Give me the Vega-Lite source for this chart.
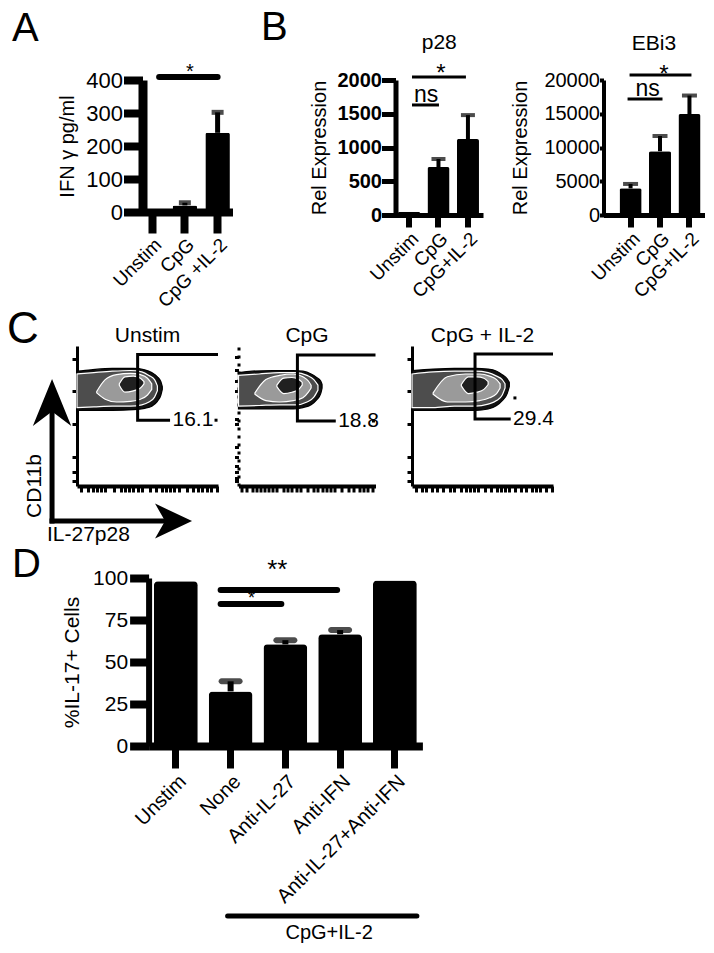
{
  "$schema": "https://vega.github.io/schema/vega-lite/v6.json",
  "background": "white",
  "padding": {"left": 7, "top": 8, "right": 4, "bottom": 4},
  "config": {
    "view": {"stroke": null},
    "axis": {"grid": false, "labelFont": "Liberation Sans", "titleFont": "Liberation Sans", "labelColor": "black", "titleColor": "black", "domainColor": "black", "tickColor": "black", "titleFontWeight": "normal", "labelOverlap": false, "labelLimit": 0},
    "title": {"font": "Liberation Sans", "fontWeight": "normal", "color": "black"},
    "text": {"font": "Liberation Sans", "color": "black"}
  },
  "datasets": {
    "A": [{"g": "Unstim", "v": 3, "e": null}, {"g": "CpG", "v": 20, "e": 28}, {"g": "CpG +IL-2", "v": 240, "e": 302}],
    "P28": [{"g": "Unstim", "v": 50, "e": null}, {"g": "CpG", "v": 710, "e": 830}, {"g": "CpG+IL-2", "v": 1125, "e": 1480}],
    "EBI3": [{"g": "Unstim", "v": 3950, "e": 4600}, {"g": "CpG", "v": 9450, "e": 11700}, {"g": "CpG+IL-2", "v": 14950, "e": 17700}],
    "D": [{"g": "Unstim", "v": 98, "e": null}, {"g": "None", "v": 32.5, "e": 38.5}, {"g": "Anti-IL-27", "v": 60.5, "e": 63}, {"g": "Anti-IFN", "v": 66.5, "e": 69}, {"g": "Anti-IL-27+Anti-IFN", "v": 98.5, "e": null}],
    "cont": [
      {"p": "U", "lv": "1", "x": 0, "lo": 54, "hi": 82}, {"p": "U", "lv": "1", "x": 10, "lo": 54, "hi": 83}, {"p": "U", "lv": "1", "x": 25, "lo": 54, "hi": 84}, {"p": "U", "lv": "1", "x": 40, "lo": 54.5, "hi": 84}, {"p": "U", "lv": "1", "x": 48, "lo": 55.5, "hi": 83}, {"p": "U", "lv": "1", "x": 53, "lo": 57, "hi": 81}, {"p": "U", "lv": "1", "x": 57, "lo": 60.5, "hi": 78}, {"p": "U", "lv": "1", "x": 59.5, "lo": 65, "hi": 74.5}, {"p": "U", "lv": "1", "x": 60.5, "lo": 69, "hi": 71},
      {"p": "U", "lv": "2", "x": 0, "lo": 56, "hi": 80}, {"p": "U", "lv": "2", "x": 12, "lo": 56.5, "hi": 81}, {"p": "U", "lv": "2", "x": 25, "lo": 57, "hi": 82}, {"p": "U", "lv": "2", "x": 38, "lo": 57, "hi": 82.5}, {"p": "U", "lv": "2", "x": 46, "lo": 58, "hi": 81.5}, {"p": "U", "lv": "2", "x": 51, "lo": 60, "hi": 79}, {"p": "U", "lv": "2", "x": 55, "lo": 63.5, "hi": 76}, {"p": "U", "lv": "2", "x": 57, "lo": 68, "hi": 71.5},
      {"p": "U", "lv": "3", "x": 14, "lo": 66.5, "hi": 67.5}, {"p": "U", "lv": "3", "x": 20, "lo": 62, "hi": 76}, {"p": "U", "lv": "3", "x": 28, "lo": 60, "hi": 79.5}, {"p": "U", "lv": "3", "x": 38, "lo": 60.5, "hi": 80.5}, {"p": "U", "lv": "3", "x": 45, "lo": 62, "hi": 79.5}, {"p": "U", "lv": "3", "x": 50, "lo": 65, "hi": 77}, {"p": "U", "lv": "3", "x": 53, "lo": 69, "hi": 73},
      {"p": "U", "lv": "4", "x": 30, "lo": 72, "hi": 73}, {"p": "U", "lv": "4", "x": 34, "lo": 67, "hi": 78}, {"p": "U", "lv": "4", "x": 40, "lo": 68, "hi": 78.5}, {"p": "U", "lv": "4", "x": 45, "lo": 70, "hi": 77}, {"p": "U", "lv": "4", "x": 47.5, "lo": 73, "hi": 74.5},
      {"p": "C", "lv": "1", "x": 0, "lo": 55, "hi": 81}, {"p": "C", "lv": "1", "x": 10, "lo": 55, "hi": 82}, {"p": "C", "lv": "1", "x": 25, "lo": 55, "hi": 82.5}, {"p": "C", "lv": "1", "x": 40, "lo": 55, "hi": 82.5}, {"p": "C", "lv": "1", "x": 47, "lo": 56, "hi": 82}, {"p": "C", "lv": "1", "x": 53, "lo": 58, "hi": 80}, {"p": "C", "lv": "1", "x": 57, "lo": 61.5, "hi": 77.5}, {"p": "C", "lv": "1", "x": 60, "lo": 66, "hi": 75}, {"p": "C", "lv": "1", "x": 61, "lo": 70, "hi": 72.5},
      {"p": "C", "lv": "2", "x": 0, "lo": 57, "hi": 79}, {"p": "C", "lv": "2", "x": 15, "lo": 57.5, "hi": 80}, {"p": "C", "lv": "2", "x": 30, "lo": 58, "hi": 81}, {"p": "C", "lv": "2", "x": 42, "lo": 58, "hi": 81}, {"p": "C", "lv": "2", "x": 50, "lo": 60, "hi": 79}, {"p": "C", "lv": "2", "x": 55, "lo": 63.5, "hi": 76}, {"p": "C", "lv": "2", "x": 58, "lo": 68.5, "hi": 72},
      {"p": "C", "lv": "3", "x": 12, "lo": 65.5, "hi": 66.5}, {"p": "C", "lv": "3", "x": 20, "lo": 61, "hi": 76}, {"p": "C", "lv": "3", "x": 30, "lo": 60, "hi": 79}, {"p": "C", "lv": "3", "x": 40, "lo": 61, "hi": 80}, {"p": "C", "lv": "3", "x": 47, "lo": 63, "hi": 78}, {"p": "C", "lv": "3", "x": 51, "lo": 67, "hi": 75}, {"p": "C", "lv": "3", "x": 53, "lo": 70, "hi": 72},
      {"p": "C", "lv": "4", "x": 28, "lo": 71, "hi": 72}, {"p": "C", "lv": "4", "x": 33, "lo": 66, "hi": 77}, {"p": "C", "lv": "4", "x": 39, "lo": 67, "hi": 77.5}, {"p": "C", "lv": "4", "x": 44, "lo": 69, "hi": 76}, {"p": "C", "lv": "4", "x": 46.5, "lo": 72, "hi": 74},
      {"p": "I", "lv": "1", "x": 0, "lo": 54, "hi": 82.5}, {"p": "I", "lv": "1", "x": 15, "lo": 54, "hi": 83.5}, {"p": "I", "lv": "1", "x": 30, "lo": 54, "hi": 84}, {"p": "I", "lv": "1", "x": 45, "lo": 54, "hi": 84}, {"p": "I", "lv": "1", "x": 54, "lo": 55, "hi": 83.5}, {"p": "I", "lv": "1", "x": 60, "lo": 57.5, "hi": 82}, {"p": "I", "lv": "1", "x": 64, "lo": 61, "hi": 79.5}, {"p": "I", "lv": "1", "x": 67.5, "lo": 66, "hi": 76.5}, {"p": "I", "lv": "1", "x": 69, "lo": 71, "hi": 74},
      {"p": "I", "lv": "2", "x": 0, "lo": 56, "hi": 80}, {"p": "I", "lv": "2", "x": 15, "lo": 56, "hi": 81.5}, {"p": "I", "lv": "2", "x": 30, "lo": 57, "hi": 82}, {"p": "I", "lv": "2", "x": 45, "lo": 57, "hi": 82}, {"p": "I", "lv": "2", "x": 54, "lo": 58.5, "hi": 81}, {"p": "I", "lv": "2", "x": 60, "lo": 61, "hi": 78.5}, {"p": "I", "lv": "2", "x": 64, "lo": 65, "hi": 76}, {"p": "I", "lv": "2", "x": 66, "lo": 70, "hi": 73},
      {"p": "I", "lv": "3", "x": 15, "lo": 65.5, "hi": 66.5}, {"p": "I", "lv": "3", "x": 25, "lo": 60, "hi": 78}, {"p": "I", "lv": "3", "x": 38, "lo": 60, "hi": 80}, {"p": "I", "lv": "3", "x": 48, "lo": 61, "hi": 80}, {"p": "I", "lv": "3", "x": 55, "lo": 63, "hi": 78.5}, {"p": "I", "lv": "3", "x": 60, "lo": 66, "hi": 76}, {"p": "I", "lv": "3", "x": 62.5, "lo": 70, "hi": 73},
      {"p": "I", "lv": "4", "x": 35, "lo": 71.5, "hi": 72.5}, {"p": "I", "lv": "4", "x": 40, "lo": 66, "hi": 78}, {"p": "I", "lv": "4", "x": 46, "lo": 67, "hi": 78}, {"p": "I", "lv": "4", "x": 51, "lo": 69, "hi": 77}, {"p": "I", "lv": "4", "x": 54, "lo": 72.5, "hi": 74.5}
    ],
    "gate": [
      {"p": "U", "o": 0, "x": 100, "y": 94}, {"p": "U", "o": 1, "x": 43, "y": 94}, {"p": "U", "o": 2, "x": 43, "y": 47}, {"p": "U", "o": 3, "x": 66, "y": 47},
      {"p": "C", "o": 0, "x": 100, "y": 93.6}, {"p": "C", "o": 1, "x": 43, "y": 93.6}, {"p": "C", "o": 2, "x": 43, "y": 46.4}, {"p": "C", "o": 3, "x": 71, "y": 46.4},
      {"p": "I", "o": 0, "x": 100, "y": 94.3}, {"p": "I", "o": 1, "x": 44.7, "y": 94.3}, {"p": "I", "o": 2, "x": 44.7, "y": 47.9}, {"p": "I", "o": 3, "x": 70, "y": 47.9}
    ],
    "clab": [{"p": "U", "x": 67, "y": 47, "t": "16.1"}, {"p": "C", "x": 72, "y": 46.4, "t": "18.8"}, {"p": "I", "x": 71, "y": 47.9, "t": "29.4"}],
    "cdot": [{"p": "U", "x": 98.6, "y": 47}, {"p": "C", "x": 98.5, "y": 46.4}, {"p": "I", "x": 73, "y": 62.9}]
  },
  "concat": [
    {
      "concat": [
        {
          "hconcat": [
            {
              "width": 155.5, "height": 132,
              "title": {"text": "A", "anchor": "start", "frame": "group", "fontSize": 40, "baseline": "alphabetic", "offset": 20, "dx": -65, "dy": 39},
              "layer": [
                {"data": {"name": "A"}, "mark": {"type": "bar", "color": "black", "cornerRadiusEnd": 2},
                 "encoding": {
                   "x": {"field": "g", "type": "nominal", "scale": {"domain": ["Unstim", "CpG", "CpG +IL-2"], "paddingInner": 0.25, "paddingOuter": 1.243, "align": 0.96}, "axis": {"title": null, "labelAngle": -45, "labelFontSize": 19, "domainWidth": 8, "domainDash": [0, 65.5, 400], "tickWidth": 8, "tickSize": 21, "labelPadding": 2}},
                   "y": {"field": "v", "type": "quantitative", "scale": {"domain": [0, 400]}, "axis": {"title": "IFN γ pg/ml", "offset": -65.5, "values": [0, 100, 200, 300, 400], "tickCount": 10, "format": "d", "domainWidth": 9, "tickWidth": 8, "tickSize": 19, "labelFontSize": 22, "labelPadding": 1, "titleFontSize": 20, "titlePadding": 8}}}},
                {"data": {"name": "A"}, "transform": [{"filter": "isValid(datum.e)"}], "mark": {"type": "rule", "strokeWidth": 5, "color": "black"},
                 "encoding": {"x": {"field": "g", "type": "nominal"}, "y": {"field": "v", "type": "quantitative"}, "y2": {"field": "e"}}},
                {"data": {"name": "A"}, "transform": [{"filter": "isValid(datum.e)"}], "mark": {"type": "tick", "size": 12, "thickness": 5, "color": "black"},
                 "encoding": {"x": {"field": "g", "type": "nominal"}, "y": {"field": "e", "type": "quantitative"}}},
                {"data": {"values": [{"a": "Unstim", "b": "CpG +IL-2", "y": 409}]}, "mark": {"type": "rule", "strokeWidth": 6, "strokeCap": "round", "color": "black", "xOffset": 7, "x2Offset": 0},
                 "encoding": {"x": {"field": "a", "type": "nominal"}, "x2": {"field": "b"}, "y": {"field": "y", "type": "quantitative"}}},
                {"data": {"values": [{"a": "CpG", "y": 406, "t": "*"}]}, "mark": {"type": "text", "fontSize": 20, "baseline": "alphabetic", "dx": 5},
                 "encoding": {"x": {"field": "a", "type": "nominal"}, "y": {"field": "y", "type": "quantitative"}, "text": {"field": "t"}}}
              ]
            },
            {
              "title": {"text": "B", "anchor": "start", "frame": "group", "fontSize": 40, "baseline": "alphabetic", "offset": 0, "dx": -134.5, "dy": 48},
              "hconcat": [
                {
                  "width": 87.5, "height": 135,
                  "title": {"text": "p28", "fontSize": 21, "baseline": "alphabetic", "offset": 12.5, "dy": 21},
                  "layer": [
                    {"data": {"name": "P28"}, "mark": {"type": "bar", "color": "black", "cornerRadiusEnd": 2},
                     "encoding": {
                       "x": {"field": "g", "type": "nominal", "scale": {"domain": ["Unstim", "CpG", "CpG+IL-2"], "paddingInner": 0.25, "paddingOuter": 0.11, "align": 0.38}, "axis": {"title": null, "labelAngle": -45, "labelFontSize": 19, "domainWidth": 5, "tickWidth": 6, "tickSize": 12, "labelPadding": 2}},
                       "y": {"field": "v", "type": "quantitative", "scale": {"domain": [0, 2000]}, "axis": {"title": "Rel Expression", "values": [0, 500, 1000, 1500, 2000], "tickCount": 10, "format": "d", "domainWidth": 5, "tickWidth": 5, "tickSize": 14, "labelFontSize": 20, "labelFontWeight": "bold", "labelPadding": 0, "titleFontSize": 20, "titlePadding": 8}}}},
                    {"data": {"name": "P28"}, "transform": [{"filter": "isValid(datum.e)"}], "mark": {"type": "rule", "strokeWidth": 4, "color": "black"},
                     "encoding": {"x": {"field": "g", "type": "nominal"}, "y": {"field": "v", "type": "quantitative"}, "y2": {"field": "e"}}},
                    {"data": {"name": "P28"}, "transform": [{"filter": "isValid(datum.e)"}], "mark": {"type": "tick", "size": 14, "thickness": 4, "color": "black"},
                     "encoding": {"x": {"field": "g", "type": "nominal"}, "y": {"field": "e", "type": "quantitative"}}},
                    {"data": {"values": [{"a": "Unstim", "b": "CpG+IL-2", "y": 2044}]}, "mark": {"type": "rule", "strokeWidth": 3, "color": "black", "xOffset": 3, "x2Offset": -2},
                     "encoding": {"x": {"field": "a", "type": "nominal"}, "x2": {"field": "b"}, "y": {"field": "y", "type": "quantitative"}}},
                    {"data": {"values": [{"a": "Unstim", "b": "CpG", "y": 1630}]}, "mark": {"type": "rule", "strokeWidth": 3, "color": "black", "xOffset": 3, "x2Offset": 0.5},
                     "encoding": {"x": {"field": "a", "type": "nominal"}, "x2": {"field": "b"}, "y": {"field": "y", "type": "quantitative"}}},
                    {"data": {"values": [{"a": "CpG", "y": 1990, "t": "*"}]}, "mark": {"type": "text", "fontSize": 24, "baseline": "alphabetic", "dx": 2.5},
                     "encoding": {"x": {"field": "a", "type": "nominal"}, "y": {"field": "y", "type": "quantitative"}, "text": {"field": "t"}}},
                    {"data": {"values": [{"a": "Unstim", "y": 1674, "t": "ns"}]}, "mark": {"type": "text", "fontSize": 23, "baseline": "alphabetic", "align": "left", "dx": 5},
                     "encoding": {"x": {"field": "a", "type": "nominal"}, "y": {"field": "y", "type": "quantitative"}, "text": {"field": "t"}}}
                  ]
                },
                {
                  "width": 101, "height": 135,
                  "title": {"text": "EBi3", "fontSize": 21, "baseline": "alphabetic", "offset": 12.5, "dy": 21},
                  "layer": [
                    {"data": {"name": "EBI3"}, "mark": {"type": "bar", "color": "black", "cornerRadiusEnd": 2},
                     "encoding": {
                       "x": {"field": "g", "type": "nominal", "scale": {"domain": ["Unstim", "CpG", "CpG+IL-2"], "paddingInner": 0.25, "paddingOuter": 0.34, "align": 0.8}, "axis": {"title": null, "labelAngle": -45, "labelFontSize": 19, "domainWidth": 5, "tickWidth": 6, "tickSize": 12, "labelPadding": 2}},
                       "y": {"field": "v", "type": "quantitative", "scale": {"domain": [0, 20000]}, "axis": {"title": "Rel Expression", "values": [0, 5000, 10000, 15000, 20000], "tickCount": 10, "format": "d", "domainWidth": 4, "tickWidth": 4, "tickSize": 4, "labelFontSize": 20, "labelPadding": 0, "titleFontSize": 20, "titlePadding": 13}}}},
                    {"data": {"name": "EBI3"}, "transform": [{"filter": "isValid(datum.e)"}], "mark": {"type": "rule", "strokeWidth": 4, "color": "black"},
                     "encoding": {"x": {"field": "g", "type": "nominal"}, "y": {"field": "v", "type": "quantitative"}, "y2": {"field": "e"}}},
                    {"data": {"name": "EBI3"}, "transform": [{"filter": "isValid(datum.e)"}], "mark": {"type": "tick", "size": 15, "thickness": 4, "color": "black"},
                     "encoding": {"x": {"field": "g", "type": "nominal"}, "y": {"field": "e", "type": "quantitative"}}},
                    {"data": {"values": [{"a": "Unstim", "b": "CpG+IL-2", "y": 20740}]}, "mark": {"type": "rule", "strokeWidth": 3, "color": "black", "xOffset": -1, "x2Offset": 2},
                     "encoding": {"x": {"field": "a", "type": "nominal"}, "x2": {"field": "b"}, "y": {"field": "y", "type": "quantitative"}}},
                    {"data": {"values": [{"a": "Unstim", "b": "CpG", "y": 17185}]}, "mark": {"type": "rule", "strokeWidth": 3, "color": "black", "xOffset": -3, "x2Offset": 2.5},
                     "encoding": {"x": {"field": "a", "type": "nominal"}, "x2": {"field": "b"}, "y": {"field": "y", "type": "quantitative"}}},
                    {"data": {"values": [{"a": "CpG", "y": 19750, "t": "*"}]}, "mark": {"type": "text", "fontSize": 24, "baseline": "alphabetic", "dx": 4},
                     "encoding": {"x": {"field": "a", "type": "nominal"}, "y": {"field": "y", "type": "quantitative"}, "text": {"field": "t"}}},
                    {"data": {"values": [{"a": "Unstim", "y": 17630, "t": "ns"}]}, "mark": {"type": "text", "fontSize": 23, "baseline": "alphabetic", "align": "left", "dx": 5},
                     "encoding": {"x": {"field": "a", "type": "nominal"}, "y": {"field": "y", "type": "quantitative"}, "text": {"field": "t"}}}
                  ]
                }
              ],
              "spacing": 27
            }
          ],
          "spacing": 27.5
        },
        {
          "title": {"text": "C", "anchor": "start", "frame": "group", "fontSize": 44, "baseline": "alphabetic", "offset": 0, "dx": -70, "dy": 62},
          "hconcat": [
            {
              "width": 141, "height": 140,
              "title": {"text": "Unstim", "fontSize": 21, "baseline": "alphabetic", "offset": 4, "dy": 21},
              "layer": [
                {"data": {"name": "cont"}, "transform": [{"filter": "datum.p == 'U'"}], "mark": {"type": "area", "interpolate": "monotone", "strokeWidth": 1.2},
                 "encoding": {
                   "x": {"field": "x", "type": "quantitative", "scale": {"domain": [0, 100], "nice": false, "zero": false}, "axis": {"title": null, "labels": false, "values": [3, 8, 11, 14, 17, 20, 26, 31, 34, 37, 40, 43, 46, 52, 56, 60, 63, 66, 69, 72, 78, 82, 86, 89, 92, 95, 99], "tickCount": 50, "domainWidth": 4, "tickWidth": 3, "tickSize": 6}},
                   "y": {"field": "lo", "type": "quantitative", "scale": {"domain": [0, 100], "nice": false, "zero": false}, "axis": {"title": null, "labels": false, "values": [90.7, 67.9, 44.3, 20.7, 10, 3.6], "tickCount": 50, "domainWidth": 3, "tickWidth": 3, "tickSize": 5}},
                   "y2": {"field": "hi"},
                   "fill": {"field": "lv", "type": "nominal", "scale": {"domain": ["1", "2", "3", "4"], "range": ["#111111", "#4d4d4d", "#9a9a9a", "#202020"]}, "legend": null},
                   "stroke": {"field": "lv", "type": "nominal", "scale": {"domain": ["1", "2", "3", "4"], "range": ["#000000", "#ffffff", "#ffffff", "#ffffff"]}, "legend": null}}},
                {"data": {"name": "gate"}, "transform": [{"filter": "datum.p == 'U'"}], "mark": {"type": "line", "strokeWidth": 3, "color": "black", "strokeJoin": "miter"},
                 "encoding": {"x": {"field": "x", "type": "quantitative", "scale": {"domain": [0, 100]}}, "y": {"field": "y", "type": "quantitative", "scale": {"domain": [0, 100]}}, "order": {"field": "o"}}},
                {"data": {"name": "clab"}, "transform": [{"filter": "datum.p == 'U'"}], "mark": {"type": "text", "fontSize": 21, "align": "left", "baseline": "middle", "dx": 1},
                 "encoding": {"x": {"field": "x", "type": "quantitative", "scale": {"domain": [0, 100]}}, "y": {"field": "y", "type": "quantitative", "scale": {"domain": [0, 100]}}, "text": {"field": "t"}}},
                {"data": {"name": "cdot"}, "transform": [{"filter": "datum.p == 'U'"}], "mark": {"type": "point", "shape": "square", "filled": true, "size": 9, "color": "black", "opacity": 1},
                 "encoding": {"x": {"field": "x", "type": "quantitative", "scale": {"domain": [0, 100]}}, "y": {"field": "y", "type": "quantitative", "scale": {"domain": [0, 100]}}}},
                {"data": {"values": [{"x": -17.7, "y": -26.8, "x2": -17.7, "y2": 59}, {"x": -19.5, "y": -25, "x2": 67, "y2": -25}]}, "mark": {"type": "rule", "strokeWidth": 5, "color": "black"},
                 "encoding": {"x": {"field": "x", "type": "quantitative", "scale": {"domain": [0, 100]}}, "y": {"field": "y", "type": "quantitative", "scale": {"domain": [0, 100]}}, "x2": {"field": "x2"}, "y2": {"field": "y2"}}},
                {"data": {"values": [{"x": -17.7, "y": 59.3}]}, "mark": {"type": "point", "shape": "M0,-1L0.8,0.96L0,0.35L-0.8,0.96Z", "size": 2304, "filled": true, "color": "black", "opacity": 1},
                 "encoding": {"x": {"field": "x", "type": "quantitative", "scale": {"domain": [0, 100]}}, "y": {"field": "y", "type": "quantitative", "scale": {"domain": [0, 100]}}}},
                {"data": {"values": [{"x": 67.4, "y": -25}]}, "mark": {"type": "point", "shape": "M1,0L-0.85,0.87L-0.35,0L-0.85,-0.87Z", "size": 1600, "filled": true, "color": "black", "opacity": 1},
                 "encoding": {"x": {"field": "x", "type": "quantitative", "scale": {"domain": [0, 100]}}, "y": {"field": "y", "type": "quantitative", "scale": {"domain": [0, 100]}}}},
                {"data": {"values": [{"x": -29.8, "y": 0, "t": "CD11b"}]}, "mark": {"type": "text", "fontSize": 21, "angle": 270, "align": "center", "baseline": "middle"},
                 "encoding": {"x": {"field": "x", "type": "quantitative", "scale": {"domain": [0, 100]}}, "y": {"field": "y", "type": "quantitative", "scale": {"domain": [0, 100]}}, "text": {"field": "t"}}},
                {"data": {"values": [{"x": -21.3, "y": -35, "t": "IL-27p28"}]}, "mark": {"type": "text", "fontSize": 21, "align": "left", "baseline": "middle"},
                 "encoding": {"x": {"field": "x", "type": "quantitative", "scale": {"domain": [0, 100]}}, "y": {"field": "y", "type": "quantitative", "scale": {"domain": [0, 100]}}, "text": {"field": "t"}}}
              ]
            },
            {
              "hconcat": [
                {
                  "width": 137, "height": 140,
                  "title": {"text": "CpG", "fontSize": 21, "baseline": "alphabetic", "offset": 4, "dy": 21},
                  "layer": [
                    {"data": {"name": "cont"}, "transform": [{"filter": "datum.p == 'C'"}], "mark": {"type": "area", "interpolate": "monotone", "strokeWidth": 1.2},
                     "encoding": {
                       "x": {"field": "x", "type": "quantitative", "scale": {"domain": [0, 100], "nice": false, "zero": false}, "axis": {"title": null, "labels": false, "values": [2, 6, 10, 13, 16, 19, 22, 25, 28, 33, 36, 39, 42, 45, 50, 55, 58, 61, 64, 67, 70, 75, 80, 84, 88, 91, 94, 98], "tickCount": 50, "domainWidth": 4, "tickWidth": 3, "tickSize": 6}},
                       "y": {"field": "lo", "type": "quantitative", "scale": {"domain": [0, 100], "nice": false, "zero": false}, "axis": {"title": null, "labels": false, "values": [92, 83, 75, 68, 48, 44.3, 28, 20.7, 14, 10, 6, 3.6], "tickCount": 50, "domainWidth": 3, "domainDash": [3, 5], "tickWidth": 3, "tickSize": 4}},
                       "y2": {"field": "hi"},
                       "fill": {"field": "lv", "type": "nominal", "scale": {"domain": ["1", "2", "3", "4"], "range": ["#111111", "#4d4d4d", "#9a9a9a", "#202020"]}, "legend": null},
                       "stroke": {"field": "lv", "type": "nominal", "scale": {"domain": ["1", "2", "3", "4"], "range": ["#000000", "#ffffff", "#ffffff", "#ffffff"]}, "legend": null}}},
                    {"data": {"name": "gate"}, "transform": [{"filter": "datum.p == 'C'"}], "mark": {"type": "line", "strokeWidth": 3, "color": "black", "strokeJoin": "miter"},
                     "encoding": {"x": {"field": "x", "type": "quantitative", "scale": {"domain": [0, 100]}}, "y": {"field": "y", "type": "quantitative", "scale": {"domain": [0, 100]}}, "order": {"field": "o"}}},
                    {"data": {"name": "clab"}, "transform": [{"filter": "datum.p == 'C'"}], "mark": {"type": "text", "fontSize": 21, "align": "left", "baseline": "middle", "dx": 1},
                     "encoding": {"x": {"field": "x", "type": "quantitative", "scale": {"domain": [0, 100]}}, "y": {"field": "y", "type": "quantitative", "scale": {"domain": [0, 100]}}, "text": {"field": "t"}}},
                    {"data": {"name": "cdot"}, "transform": [{"filter": "datum.p == 'C'"}], "mark": {"type": "point", "shape": "square", "filled": true, "size": 9, "color": "black", "opacity": 1},
                     "encoding": {"x": {"field": "x", "type": "quantitative", "scale": {"domain": [0, 100]}}, "y": {"field": "y", "type": "quantitative", "scale": {"domain": [0, 100]}}}}
                  ]
                },
                {
                  "width": 141, "height": 140,
                  "title": {"text": "CpG + IL-2", "fontSize": 21, "baseline": "alphabetic", "offset": 4, "dy": 21},
                  "layer": [
                    {"data": {"name": "cont"}, "transform": [{"filter": "datum.p == 'I'"}], "mark": {"type": "area", "interpolate": "monotone", "strokeWidth": 1.2},
                     "encoding": {
                       "x": {"field": "x", "type": "quantitative", "scale": {"domain": [0, 100], "nice": false, "zero": false}, "axis": {"title": null, "labels": false, "values": [3, 7, 10, 14, 18, 22, 27, 30, 35, 38, 41, 44, 47, 52, 56, 60, 63, 66, 69, 73, 77, 81, 85, 88, 91, 95, 99], "tickCount": 50, "domainWidth": 4, "tickWidth": 3, "tickSize": 6}},
                       "y": {"field": "lo", "type": "quantitative", "scale": {"domain": [0, 100], "nice": false, "zero": false}, "axis": {"title": null, "labels": false, "values": [90.7, 67.9, 44.3, 20.7, 10, 3.6], "tickCount": 50, "domainWidth": 3, "tickWidth": 3, "tickSize": 5}},
                       "y2": {"field": "hi"},
                       "fill": {"field": "lv", "type": "nominal", "scale": {"domain": ["1", "2", "3", "4"], "range": ["#111111", "#4d4d4d", "#9a9a9a", "#202020"]}, "legend": null},
                       "stroke": {"field": "lv", "type": "nominal", "scale": {"domain": ["1", "2", "3", "4"], "range": ["#000000", "#ffffff", "#ffffff", "#ffffff"]}, "legend": null}}},
                    {"data": {"name": "gate"}, "transform": [{"filter": "datum.p == 'I'"}], "mark": {"type": "line", "strokeWidth": 3, "color": "black", "strokeJoin": "miter"},
                     "encoding": {"x": {"field": "x", "type": "quantitative", "scale": {"domain": [0, 100]}}, "y": {"field": "y", "type": "quantitative", "scale": {"domain": [0, 100]}}, "order": {"field": "o"}}},
                    {"data": {"name": "clab"}, "transform": [{"filter": "datum.p == 'I'"}], "mark": {"type": "text", "fontSize": 21, "align": "left", "baseline": "middle", "dx": 1},
                     "encoding": {"x": {"field": "x", "type": "quantitative", "scale": {"domain": [0, 100]}}, "y": {"field": "y", "type": "quantitative", "scale": {"domain": [0, 100]}}, "text": {"field": "t"}}},
                    {"data": {"name": "cdot"}, "transform": [{"filter": "datum.p == 'I'"}], "mark": {"type": "point", "shape": "square", "filled": true, "size": 9, "color": "black", "opacity": 1},
                     "encoding": {"x": {"field": "x", "type": "quantitative", "scale": {"domain": [0, 100]}}, "y": {"field": "y", "type": "quantitative", "scale": {"domain": [0, 100]}}}}
                  ]
                }
              ],
              "spacing": 23.5
            }
          ],
          "spacing": 8.5
        }
      ],
      "columns": 1,
      "align": "none",
      "spacing": -3
    },
    {
      "width": 345.4, "height": 168,
      "title": {"text": "D", "anchor": "start", "frame": "group", "fontSize": 40, "baseline": "alphabetic", "offset": 0, "dx": -65, "dy": 60},
      "layer": [
        {"data": {"name": "D"}, "mark": {"type": "bar", "color": "black", "cornerRadiusEnd": 4},
         "encoding": {
           "x": {"field": "g", "type": "nominal", "scale": {"domain": ["Unstim", "None", "Anti-IL-27", "Anti-IFN", "Anti-IL-27+Anti-IFN"], "paddingInner": 0.2, "paddingOuter": 0.754, "align": 0.932}, "axis": {"title": null, "labelAngle": -45, "labelFontSize": 20, "domainWidth": 8, "domainDash": [0, 71.6, 500], "tickWidth": 7, "tickSize": 22, "labelPadding": 3}},
           "y": {"field": "v", "type": "quantitative", "scale": {"domain": [0, 100]}, "axis": {"title": "%IL-17+ Cells", "offset": -71.6, "values": [0, 25, 50, 75, 100], "tickCount": 10, "format": "d", "domainWidth": 6, "tickWidth": 8, "tickSize": 19, "labelFontSize": 21, "labelPadding": 2, "titleFontSize": 21, "titlePadding": 10}}}},
        {"data": {"name": "D"}, "transform": [{"filter": "isValid(datum.e)"}], "mark": {"type": "rule", "strokeWidth": 6, "color": "black"},
         "encoding": {"x": {"field": "g", "type": "nominal"}, "y": {"field": "v", "type": "quantitative"}, "y2": {"field": "e"}}},
        {"data": {"name": "D"}, "transform": [{"filter": "isValid(datum.e)"}], "mark": {"type": "tick", "size": 24, "thickness": 6, "cornerRadius": 3, "color": "black"},
         "encoding": {"x": {"field": "g", "type": "nominal"}, "y": {"field": "e", "type": "quantitative"}}},
        {"data": {"values": [{"a": "None", "y": 84.5, "t": "*"}]}, "mark": {"type": "text", "fontSize": 18, "baseline": "alphabetic", "dx": 21},
         "encoding": {"x": {"field": "a", "type": "nominal"}, "y": {"field": "y", "type": "quantitative"}, "text": {"field": "t"}}},
        {"data": {"values": [{"a": "None", "b": "Anti-IFN", "y": 92.9}]}, "mark": {"type": "rule", "strokeWidth": 6, "strokeCap": "round", "color": "black", "xOffset": -10, "x2Offset": -3},
         "encoding": {"x": {"field": "a", "type": "nominal"}, "x2": {"field": "b"}, "y": {"field": "y", "type": "quantitative"}}},
        {"data": {"values": [{"a": "None", "b": "Anti-IL-27", "y": 84.5}]}, "mark": {"type": "rule", "strokeWidth": 6, "strokeCap": "round", "color": "black", "xOffset": -10, "x2Offset": -4},
         "encoding": {"x": {"field": "a", "type": "nominal"}, "x2": {"field": "b"}, "y": {"field": "y", "type": "quantitative"}}},
        {"data": {"values": [{"a": "Anti-IL-27", "y": 100, "t": "**"}]}, "mark": {"type": "text", "fontSize": 26, "baseline": "alphabetic", "dx": -8},
         "encoding": {"x": {"field": "a", "type": "nominal"}, "y": {"field": "y", "type": "quantitative"}, "text": {"field": "t"}}},
        {"data": {"values": [{"a": "None", "b": "Anti-IL-27+Anti-IFN", "y": -101.2}]}, "mark": {"type": "rule", "strokeWidth": 5, "strokeCap": "round", "color": "black", "xOffset": -3, "x2Offset": 22},
         "encoding": {"x": {"field": "a", "type": "nominal"}, "x2": {"field": "b"}, "y": {"field": "y", "type": "quantitative"}}},
        {"data": {"values": [{"a": "Anti-IFN", "y": -111.3, "t": "CpG+IL-2"}]}, "mark": {"type": "text", "fontSize": 20, "baseline": "middle", "dx": -11},
         "encoding": {"x": {"field": "a", "type": "nominal"}, "y": {"field": "y", "type": "quantitative"}, "text": {"field": "t"}}}
      ]
    }
  ],
  "columns": 1,
  "align": "none",
  "spacing": 0
}
